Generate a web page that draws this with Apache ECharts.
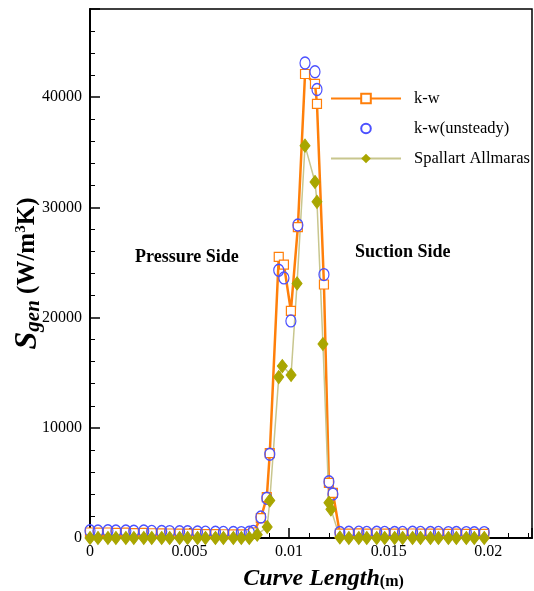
<!DOCTYPE html>
<html>
<head>
<meta charset="utf-8">
<script src="https://cdn.jsdelivr.net/npm/echarts@6/dist/echarts.min.js"></script>
<style>html,body{margin:0;padding:0;background:#fff;}#c{width:534px;height:591px;}</style>
</head>
<body>
<div id="c"></div>
<script>
// ---- data ----
const kwX = [0, 0.0004, 0.0009, 0.0013, 0.0018, 0.0022, 0.0027, 0.0031, 0.0036, 0.004, 0.0045, 0.0049, 0.0054, 0.0058, 0.0063, 0.0067, 0.0072, 0.0076, 0.0080,
  0.0082, 0.00858, 0.00888, 0.00903, 0.00948, 0.00974, 0.01009, 0.01044, 0.0108, 0.0113, 0.0114, 0.01175, 0.0120, 0.0122,
  0.01255, 0.0130, 0.0135, 0.0139, 0.0144, 0.0148, 0.0153, 0.0157, 0.0162, 0.0166, 0.0171, 0.0175, 0.0180, 0.0184, 0.0189, 0.0193, 0.0198];
const kwY = [500, 480, 500, 470, 480, 450, 460, 430, 420, 410, 400, 390, 380, 360, 350, 340, 330, 320, 350,
  500, 1800, 3700, 7700, 25500, 24800, 20600, 28200, 42100, 41200, 39400, 23000, 5000, 4100,
  400, 400, 420, 400, 410, 400, 390, 400, 410, 400, 390, 400, 380, 390, 380, 370, 380];

const unsX = [0, 0.0004, 0.0009, 0.0013, 0.0018, 0.0022, 0.0027, 0.0031, 0.0036, 0.004, 0.0045, 0.0049, 0.0054, 0.0058, 0.0063, 0.0067, 0.0072, 0.0076, 0.0080,
  0.0082, 0.00858, 0.00888, 0.00903, 0.00948, 0.00974, 0.01009, 0.01044, 0.0108, 0.0113, 0.0114, 0.01175, 0.0120, 0.0122,
  0.01255, 0.0130, 0.0135, 0.0139, 0.0144, 0.0148, 0.0153, 0.0157, 0.0162, 0.0166, 0.0171, 0.0175, 0.0180, 0.0184, 0.0189, 0.0193, 0.0198];
const unsY = [650, 640, 660, 630, 640, 620, 630, 600, 590, 580, 570, 560, 550, 530, 520, 510, 500, 490, 520,
  600, 1900, 3600, 7600, 24300, 23600, 19700, 28400, 43100, 42300, 40700, 23900, 5100, 4000,
  500, 520, 530, 510, 520, 510, 500, 510, 520, 510, 500, 510, 490, 500, 490, 480, 490];

const saX = [0, 0.0004, 0.0009, 0.0013, 0.0018, 0.0022, 0.0027, 0.0031, 0.0036, 0.004, 0.0045, 0.0049, 0.0054, 0.0058, 0.0063, 0.0067, 0.0072, 0.0076, 0.0080,
  0.0084, 0.0089, 0.00903, 0.00948, 0.00966, 0.0101, 0.0104, 0.0108, 0.0113, 0.0114, 0.0117, 0.0120, 0.0121,
  0.01255, 0.0130, 0.0135, 0.0139, 0.0144, 0.0148, 0.0153, 0.0157, 0.0162, 0.0166, 0.0171, 0.0175, 0.0180, 0.0184, 0.0189, 0.0193, 0.0198];
const saY = [0, 0, 0, 0, 0, 0, 0, 0, 0, 0, 0, 0, 0, 0, 0, 0, 0, 0, 0,
  300, 1000, 3400, 14600, 15600, 14800, 23100, 35600, 32300, 30500, 17600, 3200, 2600,
  50, 0, 0, 0, 0, 0, 0, 0, 0, 0, 0, 0, 0, 0, 0, 0, 0];

const seriesNames = ['k-w', 'k-w(unsteady)', 'Spallart Allmaras'];
const xTickInterval = 0.005;
const yTickInterval = 10000;

const pairs = (xs, ys) => xs.map((x, i) => [x, ys[i]]);

const chart = echarts.init(document.getElementById('c'), null, {renderer: 'canvas'});
const serif = '"Liberation Serif", "DejaVu Serif", serif';
chart.setOption({
  animation: false,
  backgroundColor: '#fff',
  grid: {left: 90, top: 9, right: 2, bottom: 53, show: true, borderColor: '#000', borderWidth: 1.5,
         containLabel: false, outerBoundsMode: 'none'},
  legend: {
    orient: 'vertical', left: 325, top: 85, itemWidth: 70, itemHeight: 12, itemGap: 13,
    textStyle: {fontFamily: serif, fontSize: 16.5, color: '#000', padding: [0, 0, 0, 8]},
    data: seriesNames
  },
  xAxis: {
    type: 'value', min: 0, max: 0.0222, interval: xTickInterval,
    name: '{it|Curve Length}{m|(m)}', nameLocation: 'middle', nameGap: 29, nameMoveOverlap: false,
    nameTextStyle: {padding: [0, 0, 0, 25], rich: {
      it: {fontFamily: serif, fontStyle: 'italic', fontWeight: 'bold', fontSize: 24, color: '#000'},
      m: {fontFamily: serif, fontWeight: 'bold', fontSize: 16, color: '#000', padding: [5, 0, 0, 0]}
    }},
    axisLine: {lineStyle: {color: '#000', width: 2}},
    axisTick: {inside: true, length: 10, lineStyle: {color: '#000', width: 1.5}},
    minorTick: {show: true, splitNumber: 5, length: 5, lineStyle: {color: '#000', width: 1}},
    axisLabel: {fontFamily: serif, fontSize: 16, color: '#000', margin: 6, showMaxLabel: false,
                formatter: v => String(v)},
    splitLine: {show: false}
  },
  yAxis: {
    type: 'value', min: 0, max: 48000, interval: yTickInterval,
    name: '{s|S}{g|gen}{u| (W/m}{sup|3}{u|K)}', nameLocation: 'middle', nameGap: 46, nameRotate: 90,
    nameMoveOverlap: false,
    nameTextStyle: {padding: [0, 0, 0, 0], rich: {
      s: {fontFamily: serif, fontStyle: 'italic', fontWeight: 'bold', fontSize: 32, color: '#000'},
      g: {fontFamily: serif, fontStyle: 'italic', fontWeight: 'bold', fontSize: 21, color: '#000', padding: [12, 0, 0, 0]},
      u: {fontFamily: serif, fontWeight: 'bold', fontSize: 25, color: '#000'},
      sup: {fontFamily: serif, fontWeight: 'bold', fontSize: 15, color: '#000', padding: [0, 0, 12, 0]}
    }},
    axisLine: {show: true, lineStyle: {color: '#000', width: 2}},
    axisTick: {show: true, inside: true, length: 10, lineStyle: {color: '#000', width: 1.5}},
    minorTick: {show: true, splitNumber: 5, length: 5, lineStyle: {color: '#000', width: 1}},
    axisLabel: {fontFamily: serif, fontSize: 16, color: '#000', margin: 8, showMaxLabel: false,
                formatter: v => String(v)},
    splitLine: {show: false}
  },
  graphic: [
    {type: 'text', left: 135, top: 248, style: {text: 'Pressure Side', font: 'bold 18px "Liberation Serif"', fill: '#000'}},
    {type: 'text', left: 355, top: 243, style: {text: 'Suction Side', font: 'bold 18px "Liberation Serif"', fill: '#000'}}
  ],
  series: [
    {
      name: seriesNames[0], type: 'line', data: pairs(kwX, kwY),
      symbol: 'rect', symbolSize: 9, showAllSymbol: true,
      itemStyle: {color: '#fff', borderColor: '#ff7f0a', borderWidth: 1.2},
      lineStyle: {color: '#ff7f0a', width: 2.5},
      color: '#ff7f0a'
    },
    {
      name: seriesNames[1], type: 'line', data: pairs(unsX, unsY),
      symbol: 'circle', symbolSize: [10, 12], showAllSymbol: true,
      itemStyle: {color: 'rgba(255,255,255,0)', borderColor: '#4b50ff', borderWidth: 1.3},
      lineStyle: {width: 0, opacity: 0},
      color: '#4b50ff'
    },
    {
      name: seriesNames[2], type: 'line', data: pairs(saX, saY),
      symbol: 'diamond', symbolSize: [10, 13], showAllSymbol: true,
      itemStyle: {color: '#a9a600', borderColor: '#a9a600'},
      lineStyle: {color: '#c8c68e', width: 1.5},
      color: '#a9a600'
    }
  ]
});
</script>
</body>
</html>
